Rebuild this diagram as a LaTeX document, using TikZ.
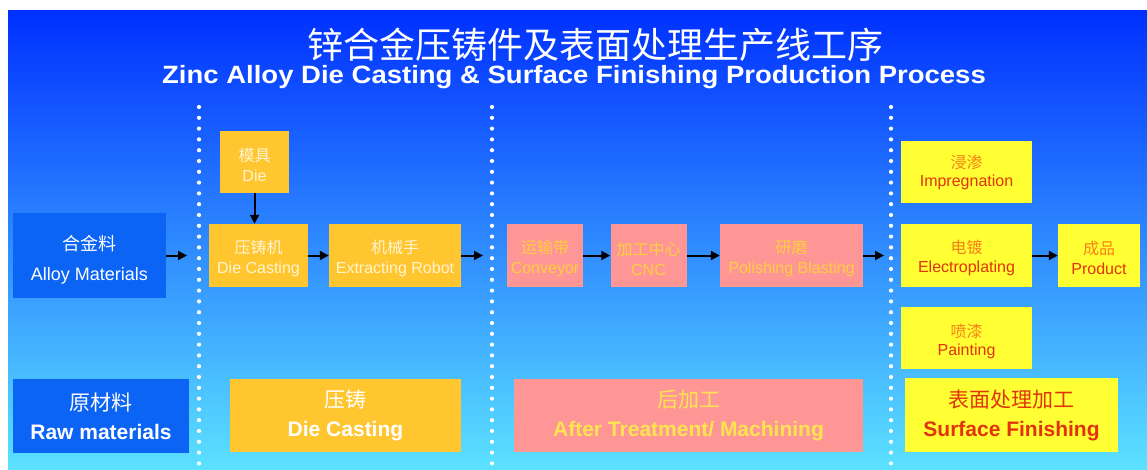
\documentclass[tikz,border=0pt]{standalone}
\usepackage{fontspec}
\setmainfont{Liberation Sans}
\newfontfamily\cjk{Noto Sans CJK SC}
\usetikzlibrary{arrows.meta}

\definecolor{bgtop}{RGB}{0,48,255}
\definecolor{bgmid}{RGB}{0,150,255}
\definecolor{bgbot}{RGB}{92,226,255}
\definecolor{rawblue}{RGB}{12,100,245}
\definecolor{castorange}{RGB}{255,198,48}
\definecolor{afterpink}{RGB}{255,150,150}
\definecolor{finyellow}{RGB}{255,255,51}
\definecolor{creamtxt}{RGB}{255,244,210}
\definecolor{goldtxt}{RGB}{255,206,64}
\definecolor{ambertxt}{RGB}{248,128,24}
\definecolor{redtxt}{RGB}{226,52,12}

\newcommand{\zh}[2][20pt]{{\cjk\rule{0pt}{#1}#2}}

\begin{document}
\begin{tikzpicture}[x=1pt, y=-1pt,
  box/.style={inner sep=0pt, align=center},
  rawbox/.style={box, fill=rawblue, text=white},
  castbox/.style={box, fill=castorange, text=creamtxt},
  afterbox/.style={box, fill=afterpink, text=goldtxt},
  finbox/.style={box, fill=finyellow, text=redtxt},
  small/.style={font=\fontsize{16}{20}\selectfont},
  big/.style={font=\fontsize{21}{29}\selectfont},
  arr/.style={line width=2pt, -{Triangle[length=9pt,width=9pt]}}]

\useasboundingbox (0,0) rectangle (1147,470);
\fill[white] (0,0) rectangle (1147,470);
\shade[top color=bgtop, middle color=bgmid, bottom color=bgbot] (8,11) rectangle (1147,470);

\foreach \d in {199,492,891}{\draw[white, line width=4.2pt, line cap=round, dash pattern=on 0pt off 10.8pt] (\d,107) -- (\d,470);}

\node[text=white] (cntitle) at (595,45) {\cjk\fontsize{36}{36}\selectfont 锌合金压铸件及表面处理生产线工序};
\node[text=white] (entitle) at (574,77) {\fontsize{25}{25}\selectfont\bfseries\scalebox{1.1}[1]{Zinc Alloy Die Casting \& Surface Finishing Production Process}};

\node[rawbox, minimum width=153pt, minimum height=85pt, font=\fontsize{18}{30}\selectfont] (alloy) at (89.5,255.5) {\zh[23pt]{合金料}\\Alloy Materials};

\node[castbox, small, minimum width=69pt, minimum height=62pt] (die) at (254.5,162) {\zh{模具}\\Die};
\node[castbox, small, minimum width=99pt, minimum height=63pt] (cast) at (258.5,255.5) {\zh{压铸机}\\Die Casting};
\node[castbox, small, minimum width=132pt, minimum height=63pt] (robot) at (395,255.5) {\zh{机械手}\\Extracting Robot};

\node[afterbox, small, minimum width=76pt, minimum height=63pt] (conveyor) at (545,255.5) {\zh{运输带}\\Conveyor};
\node[afterbox, small, minimum width=76pt, minimum height=63pt] (cnc) at (648.5,255.5) {\zh{加工中心}\\CNC};
\node[afterbox, small, minimum width=143pt, minimum height=63pt] (polish) at (791.5,255.5) {\zh{研磨}\\Polishing Blasting};

\node[finbox, minimum width=131pt, minimum height=62pt, font=\fontsize{16}{18}\selectfont] (impreg) at (966.5,172) {\zh[0pt]{\color{ambertxt}浸渗}\\Impregnation};
\node[finbox, minimum width=131pt, minimum height=63pt, font=\fontsize{16}{19}\selectfont] (electro) at (966.5,255.5) {\zh[19pt]{\color{ambertxt}电镀}\\Electroplating};
\node[finbox, minimum width=131pt, minimum height=62pt, font=\fontsize{16}{18}\selectfont] (paint) at (966.5,337.5) {\zh[22pt]{\color{ambertxt}喷漆}\\Painting};
\node[finbox, small, minimum width=82pt, minimum height=63pt] (product) at (1099,255.5) {\zh[18pt]{\color{ambertxt}成品}\\Product};

\node[rawbox, big, minimum width=176pt, minimum height=74pt] (raw) at (101,416) {\zh[0pt]{原材料}\\\bfseries Raw materials};
\node[castbox, big, minimum width=231pt, minimum height=73pt, text=white] (diecast) at (345.5,415.5) {\zh[0pt]{压铸}\\\bfseries Die Casting};
\node[afterbox, big, minimum width=349pt, minimum height=73pt, text={rgb,255:red,255;green,228;blue,80}] (after) at (688.5,415.5) {\zh[0pt]{后加工}\\\bfseries After Treatment/ Machining};
\node[finbox, big, minimum width=213pt, minimum height=74pt] (surface) at (1011.5,415) {\zh[0pt]{表面处理加工}\\\bfseries Surface Finishing};

\coordinate (e1) at (187,255.5);
\coordinate (e2) at (483,255.5);
\coordinate (e3) at (884,255.5);

\draw[arr] (alloy) -- (e1);
\draw[arr] (die.south) -- (die.south |- cast.north);
\draw[arr] (cast) -- (robot);
\draw[arr] (robot) -- (e2);
\draw[arr] (conveyor) -- (cnc);
\draw[arr] (cnc) -- (polish);
\draw[arr] (polish) -- (e3);
\draw[arr] (electro) -- (product);

\end{tikzpicture}
\end{document}
